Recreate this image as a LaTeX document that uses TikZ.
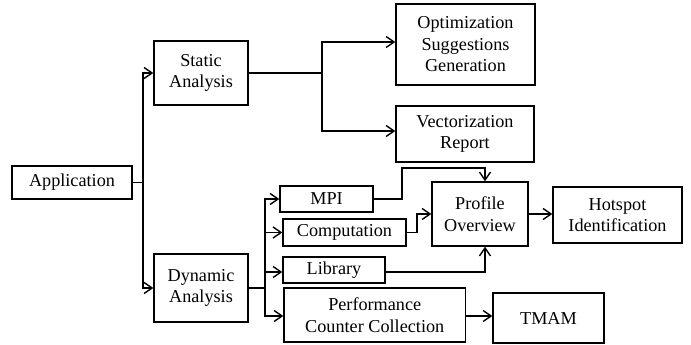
\documentclass[tikz,border=0pt]{standalone}
\usepackage{fontspec}
\setmainfont{Liberation Serif}
\usetikzlibrary{arrows.meta,calc}
\begin{document}
\begin{tikzpicture}[x=1pt,y=-1pt,
  box/.style={draw,line width=1.4pt,inner sep=0pt,align=center,
    font=\fontsize{18.2}{21.5}\selectfont},
  arr/.style={line width=1.4pt,-{Straight Barb[length=8pt,width=11pt,line width=1.4pt]}},
  ln/.style={line width=1.4pt}]
\useasboundingbox (0,0) rectangle (691,345);
\node[box,minimum width=120pt,minimum height=33pt] (app) at (72,182.5) {Application};
\node[box,minimum width=94pt,minimum height=64pt] (static) at (201,73) {Static\\Analysis};
\node[box,minimum width=94pt,minimum height=68pt] (dyn) at (201,288) {Dynamic\\Analysis};
\node[box,minimum width=139pt,minimum height=81pt] (opt) at (465.5,44.5) {Optimization\\Suggestions\\Generation};
\node[box,minimum width=138pt,minimum height=56pt] (vec) at (465,134) {Vectorization\\Report};
\node[box,minimum width=93pt,minimum height=26pt] (mpi) at (326.5,199) {\raisebox{-4pt}{MPI}};
\node[box,minimum width=123pt,minimum height=27pt] (comp) at (344.5,232.5) {\raisebox{-4pt}{Computation}};
\node[box,minimum width=102pt,minimum height=26pt] (lib) at (334,270) {\raisebox{-6pt}{Library}};
\node[box,minimum width=181.5pt,minimum height=54pt] (perf) at (374.75,315) {Performance\\Counter Collection};
\node[box,minimum width=96pt,minimum height=64pt] (prof) at (480,214) {Profile\\Overview};
\node[box,minimum width=129pt,minimum height=56pt] (hot) at (617.5,215) {Hotspot\\Identification};
\node[box,minimum width=111pt,minimum height=50pt] (tmam) at (548.5,318) {TMAM};
% Application branches
\coordinate (t1) at (143,182.5);
\draw[ln] (app.east) -- (t1);
\draw[arr] (t1) |- (static.west);
\draw[arr] (t1) |- (dyn.west);
% Static branches
\coordinate (t2) at (322,73);
\draw[ln] (static.east) -- (t2);
\draw[arr] (t2) |- ([yshift=2.5pt]opt.west);
\draw[arr] (t2) |- ([yshift=3pt]vec.west);
% Dynamic branches
\coordinate (t3) at (265,288);
\draw[ln] (dyn.east) -- (t3);
\draw[arr] (t3) |- (mpi.west);
\draw[arr] (t3) |- (comp.west);
\draw[arr] (t3) |- ([yshift=-2pt]lib.west);
\draw[arr] (t3) |- ([yshift=-1pt]perf.west);
% to Profile
\coordinate (m1) at (402,168);
\draw[arr] (mpi.east) -| (m1) -| ([xshift=5pt]prof.north);
\coordinate (c1) at (417,214);
\draw[arr] (comp.east) -| (c1) -- (prof.west);
\draw[arr] ([yshift=-2pt]lib.east) -| ([xshift=5pt]prof.south);
\draw[arr] (prof.east) -- (prof.east -| hot.west);
\draw[arr] ([yshift=-1pt]perf.east) -- ([yshift=-1pt]perf.east -| tmam.west);
\end{tikzpicture}
\end{document}
